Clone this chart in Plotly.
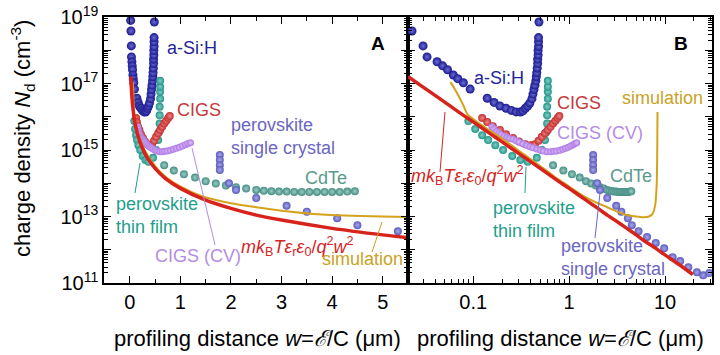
import plotly.graph_objects as go

# ---------------- data ----------------
asi_w = [0.017, 0.023, 0.030, 0.033, 0.042, 0.048, 0.054, 0.062, 0.069, 0.079, 0.093, 0.14, 0.165,
         0.19, 0.22, 0.25, 0.28, 0.31, 0.33, 0.35, 0.37, 0.39, 0.41, 0.42, 0.43, 0.44, 0.45, 0.455,
         0.46, 0.465, 0.47, 0.47, 0.475, 0.475, 0.48, 0.48, 0.48, 0.485]
asi_n = [7.9e18, 3.8e18, 1.35e18, 6.3e17, 4.5e17, 3.4e17, 2.6e17, 1.8e17, 1.4e17, 1.05e17, 6.8e16,
         3.6e16, 2.7e16, 2.1e16, 1.8e16, 1.55e16, 1.4e16, 1.38e16, 1.5e16, 1.8e16, 2.1e16, 2.6e16,
         3.5e16, 4.8e16, 6.6e16, 8.9e16, 1.2e17, 1.6e17, 2.1e17, 2.9e17, 4.0e17, 5.4e17, 7.2e17,
         9.8e17, 1.3e18, 1.8e18, 2.4e18, 7.1e18]

ptf_w = [0.089, 0.105, 0.124, 0.143, 0.17, 0.205, 0.255, 0.31, 0.37, 0.46, 0.52, 0.56, 0.58,
         0.59, 0.59, 0.59, 0.60, 0.60, 0.60, 0.60]
ptf_n = [7.4e15, 4.3e15, 2.8e15, 2.0e15, 1.4e15, 1.0e15, 6.6e14, 5.0e14, 4.4e14, 5.8e14, 1.0e15,
         2.0e15, 3.5e15, 6.3e15, 1.1e16, 2.0e16, 3.5e16, 5.6e16, 8.0e16, 1.2e17]

cigs_w = [0.124, 0.14, 0.16, 0.19, 0.22, 0.26, 0.30, 0.35, 0.40, 0.44, 0.48, 0.52, 0.56, 0.60,
          0.64, 0.68, 0.72, 0.76, 0.79]
cigs_n = [9.1e15, 6.9e15, 5.2e15, 4.0e15, 3.0e15, 2.3e15, 1.8e15, 1.5e15, 1.4e15, 1.5e15, 1.9e15,
          2.5e15, 3.2e15, 4.0e15, 5.0e15, 6.3e15, 7.6e15, 9.1e15, 1.05e16]

cigscv_w = [0.157, 0.165, 0.175, 0.185, 0.195, 0.21, 0.225, 0.24, 0.26, 0.28, 0.30, 0.33, 0.36,
            0.39, 0.42, 0.46, 0.50, 0.54, 0.59, 0.64, 0.69, 0.74, 0.80, 0.86, 0.92, 0.98, 1.04,
            1.10, 1.15, 1.20]
cigscv_n = [5.0e15, 4.3e15, 3.6e15, 3.2e15, 2.9e15, 2.6e15, 2.4e15, 2.2e15, 2.1e15, 1.9e15,
            1.74e15, 1.55e15, 1.38e15, 1.26e15, 1.17e15, 1.07e15, 1.0e15, 9.3e14, 8.9e14, 8.9e14,
            9.1e14, 9.3e14, 9.8e14, 1.05e15, 1.12e15, 1.2e15, 1.32e15, 1.45e15, 1.58e15, 1.66e15]

cdte_w = [0.68, 0.87, 1.07, 1.29, 1.50, 1.70, 1.90, 2.10, 2.30, 2.50, 2.65, 2.80, 2.95, 3.10,
          3.25, 3.40, 3.55, 3.70, 3.85, 4.00, 4.15, 4.30, 4.45]
cdte_n = [3.5e14, 2.4e14, 1.86e14, 1.48e14, 1.15e14, 9.8e13, 8.5e13, 7.6e13, 6.9e13, 6.3e13,
          6.0e13, 5.75e13, 5.6e13, 5.6e13, 5.5e13, 5.5e13, 5.5e13, 5.5e13, 5.5e13, 5.5e13,
          5.5e13, 5.6e13, 5.75e13]

psc_w = [1.78, 1.78, 1.78, 1.78, 1.96, 2.1, 2.5, 3.1, 3.5, 4.1, 4.5, 5.3, 6.5, 8.0, 9.8, 12.0,
         14.4, 17.5, 21.5, 25.0, 29.0]
psc_n = [7.1e14, 5.0e14, 3.5e14, 2.5e14, 1.0e14, 6.3e13, 3.6e13, 2.1e13, 1.4e13, 8.9e12, 5.5e12,
         3.6e12, 2.4e12, 1.6e12, 1.1e12, 6.0e11, 4.6e11, 3.0e11, 2.1e11, 1.7e11, 2.0e11]

sim_w = [0.058, 0.063, 0.068, 0.079, 0.087, 0.10, 0.12, 0.15, 0.20, 0.30, 0.50, 0.70, 1.0, 1.4,
         2.0, 2.5, 3.0, 3.8, 5.0, 6.0, 6.8, 7.4, 7.9, 8.2, 8.3, 8.35]
sim_n = [1.1e17, 7.5e16, 5.1e16, 2.2e16, 1.2e16, 8.5e15, 5.8e15, 3.8e15, 2.2e15, 9.5e14, 3.3e14,
         1.6e14, 8.0e13, 4.2e13, 2.5e13, 1.9e13, 1.5e13, 1.15e13, 1.0e13, 9.5e12, 1.0e13, 1.2e13,
         2.2e13, 1.0e14, 1.0e15, 1.4e16]

mkt_w = [0.021, 0.03, 0.04, 0.05, 0.07, 0.1, 0.15, 0.2, 0.3, 0.4, 0.5, 0.7, 1.0, 1.5, 2.0, 2.5,
         3.0, 4.0, 5.0, 6.0, 8.0, 10.0, 14.0, 19.5]
mkt_n = [1.6e17, 7.8e16, 4.4e16, 2.8e16, 1.4e16, 7.0e15, 3.1e15, 1.75e15, 7.8e14, 4.4e14, 2.8e14,
         1.4e14, 7.0e13, 3.1e13, 1.75e13, 1.1e13, 7.8e12, 4.4e12, 2.8e12, 1.9e12, 1.1e12, 7.0e11,
         3.6e11, 1.8e11]

y_tickvals = [1e11, 1e12, 1e13, 1e14, 1e15, 1e16, 1e17, 1e18, 1e19]
y_ticktext = ["10<sup>11</sup>", "", "10<sup>13</sup>", "", "10<sup>15</sup>", "",
              "10<sup>17</sup>", "", "10<sup>19</sup>"]
x1_tickvals = [0, 1, 2, 3, 4, 5]
x2_tickvals = [0.1, 1, 10]
x2_ticktext = ["0.1", "1", "10"]

# ---------------- layout helpers ----------------
W, H = 720, 355
PL, PR, PT, PB = 104, 712, 17, 283          # plot area in page pixels
ML, MR, MT, MB = PL, W - PR, PT, H - PB
PW, PH = PR - PL, PB - PT
FONT = "Liberation Sans, Arial, sans-serif"


def paper(xp, yp):
    """page pixel position -> paper coordinates"""
    return (xp - PL) / PW, (PB - yp) / PH


fig = go.Figure()

point_series = [
    (asi_w, asi_n, "#1a1a8e", "#6c6cd8", 9),
    (ptf_w, ptf_n, "#24958a", "#7fcfc4", 8),
    (cigs_w, cigs_n, "#c62e2e", "#ee8a8a", 8),
    (cdte_w, cdte_n, "#468e84", "#9ccdc4", 8),
    (cigscv_w, cigscv_n, "#b07ae4", "#dcc2fa", 7),
    (psc_w, psc_n, "#5c5cbc", "#a8a8ec", 8),
]

for xa, ya in (("x", "y"), ("x2", "y2")):
    for w, n, col, hi, sz in point_series:
        fig.add_trace(go.Scatter(
            x=w, y=n, mode="markers", xaxis=xa, yaxis=ya, showlegend=False,
            marker=dict(size=sz, color=col, line=dict(width=0),
                        gradient=dict(type="radial", color=hi))))
    fig.add_trace(go.Scatter(x=sim_w, y=sim_n, mode="lines", xaxis=xa, yaxis=ya,
                             showlegend=False,
                             line=dict(color="#d4a21c", width=2, shape="spline", smoothing=0.6)))
    fig.add_trace(go.Scatter(x=mkt_w, y=mkt_n, mode="lines", xaxis=xa, yaxis=ya,
                             showlegend=False,
                             line=dict(color="#d8221c", width=3.5, shape="spline", smoothing=0.6)))

# ---------------- axes ----------------
axis_common = dict(showline=True, linecolor="black", linewidth=1.5, mirror="ticks",
                   ticks="inside", ticklen=7, tickwidth=1.2, tickcolor="black",
                   showgrid=False, zeroline=False, automargin=False,
                   ticklabeloverflow="allow",
                   tickfont=dict(family=FONT, size=20, color="black"))

y_minor = [m * 10.0 ** e for e in range(11, 19) for m in range(2, 10)]
x2_minor = [m * 10.0 ** e for e in range(-2, 2) for m in range(2, 10)]
x1_minor = [-0.5, 0.5, 1.5, 2.5, 3.5, 4.5, 5.5]

fig.update_layout(
    template="none",
    width=W, height=H, margin=dict(l=ML, r=MR, t=MT, b=MB, autoexpand=False),
    paper_bgcolor="white", plot_bgcolor="white", showlegend=False,
    xaxis=dict(domain=[0, 0.5], range=[-0.51, 5.5], tickvals=x1_tickvals,
               minor=dict(tickvals=x1_minor, ticks="inside", ticklen=4, tickcolor="black"),
               anchor="y", **axis_common),
    xaxis2=dict(domain=[0.5, 1], type="log", range=[-1.68, 1.49], tickvals=x2_tickvals,
                ticktext=x2_ticktext,
                minor=dict(tickvals=x2_minor, ticks="inside", ticklen=4, tickcolor="black"),
                anchor="y2", **axis_common),
    yaxis=dict(type="log", range=[11, 19], tickvals=y_tickvals, ticktext=y_ticktext,
               minor=dict(tickvals=y_minor, ticks="inside", ticklen=4, tickcolor="black"),
               anchor="x", **axis_common),
    yaxis2=dict(type="log", matches="y", range=[11, 19], tickvals=y_tickvals,
                showticklabels=False,
                minor=dict(tickvals=y_minor, ticks="inside", ticklen=4, tickcolor="black"),
                anchor="x2", **axis_common),
)

# ---------------- text labels ----------------
MKT = ("<i>mk</i><sub>B</sub><i>T</i><i>ε</i><sub>r</sub><i>ε</i><sub>0</sub>/"
       "<i>q</i><sup>2</sup><i>w</i><sup>2</sup>")
labels = [
    # text, x px, y px, color, anchor
    ("a-Si:H", 192, 48, "#24249a", "center"),
    ("CIGS", 199, 110, "#c43a3a", "center"),
    ("perovskite<br>single crystal", 229, 136, "#6a66c2", "left"),
    ("CdTe", 326, 178, "#5a9a8c", "center"),
    ("perovskite<br>thin film", 114, 215, "#1f9e8c", "left"),
    ("CIGS (CV)", 198, 256, "#b48ce4", "center"),
    (MKT, 297, 246, "#d42424", "center"),
    ("simulation", 362, 259, "#c9a227", "center"),
    ("a-Si:H", 499, 78, "#24249a", "center"),
    ("CIGS", 579, 103, "#c43a3a", "center"),
    ("CIGS (CV)", 600, 133, "#b48ce4", "center"),
    ("simulation", 662, 98, "#c9a227", "center"),
    ("CdTe", 631, 176, "#5a9a8c", "center"),
    (MKT, 467, 175, "#d42424", "center"),
    ("perovskite<br>thin film", 491, 219, "#1f9e8c", "left"),
    ("perovskite<br>single crystal", 559, 257, "#6a66c2", "left"),
]
for txt, xp, yp, col, anc in labels:
    xx, yy = paper(xp, yp)
    fig.add_annotation(x=xx, y=yy, xref="paper", yref="paper", text=txt, showarrow=False,
                       xanchor=anc, yanchor="middle", align="left",
                       font=dict(family=FONT, size=18, color=col))

for txt, xp, yp in (("A", 378, 44), ("B", 681, 44)):
    xx, yy = paper(xp, yp)
    fig.add_annotation(x=xx, y=yy, xref="paper", yref="paper", text="<b>%s</b>" % txt,
                       showarrow=False, xanchor="center", yanchor="middle",
                       font=dict(family=FONT, size=19, color="black"))

XT = "profiling distance <i>w</i>=<i>ℰ</i>/C (μm)"
for xp in (257, 560):
    xx, yy = paper(xp, 338)
    fig.add_annotation(x=xx, y=yy, xref="paper", yref="paper", text=XT, showarrow=False,
                       xanchor="center", yanchor="middle",
                       font=dict(family=FONT, size=22, color="black"))
xx, yy = paper(22, 139)
fig.add_annotation(x=xx, y=yy, xref="paper", yref="paper",
                   text="charge density <i>N</i><sub>d</sub> (cm<sup>-3</sup>)",
                   showarrow=False, textangle=-90, xanchor="center", yanchor="middle",
                   font=dict(family=FONT, size=22, color="black"))

# ---------------- leader lines ----------------
leaders = [
    ((135, 193), (140, 163), "#1f9e8c"),
    ((215, 245), (192, 148), "#b48ce4"),
    ((372, 252), (382, 222), "#c9a227"),
    ((440, 172), (445, 112), "#d42424"),
    ((525, 193), (526, 167), "#1f9e8c"),
    ((595, 238), (600, 193), "#6a66c2"),
]
for (x0, y0), (x1, y1), col in leaders:
    a0, b0 = paper(x0, y0)
    a1, b1 = paper(x1, y1)
    fig.add_shape(type="line", xref="paper", yref="paper", x0=a0, y0=b0, x1=a1, y1=b1,
                  line=dict(color=col, width=1))

# remove the default 8 px page margin so the figure fills the 720x355 window
fig.write_html("out.html", config={"displayModeBar": False},
               post_script="document.body.style.margin='0';document.body.style.overflow='hidden';")
